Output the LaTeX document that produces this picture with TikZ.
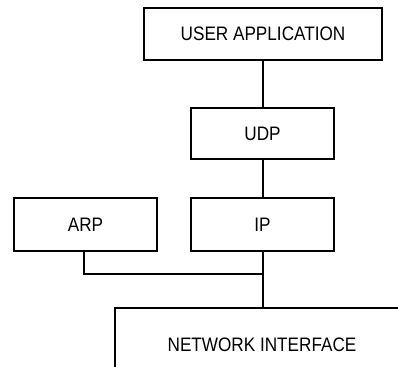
\documentclass[tikz,border=0pt]{standalone}
\usepackage{fontspec}
\setmainfont{Liberation Sans}
\newfontfamily\condfont[FakeStretch=0.88]{Liberation Sans}
\begin{document}
\begin{tikzpicture}[x=1pt,y=-1pt,
  box/.style={draw,line width=2pt,inner sep=0pt,font=\condfont\fontsize{19.5}{22}\selectfont},
  lbl/.style={inner sep=0pt,font=\condfont\fontsize{19.5}{22}\selectfont},
  conn/.style={line width=2pt}]
\useasboundingbox (0,0) rectangle (398,366);
\node[box,minimum width=238pt,minimum height=52pt] (ua) at (263,34) {USER APPLICATION};
\node[box,minimum width=143pt,minimum height=51pt] (udp) at (262.5,133.5) {UDP};
\node[box,minimum width=143pt,minimum height=53pt] (ip) at (262.5,224.5) {IP};
\node[box,minimum width=143pt,minimum height=53pt] (arp) at (85.5,224.5) {ARP};
\coordinate (nitop) at (263,308);
\coordinate (join) at (263,274);
\draw[conn,line cap=rect] (115,366) -- (115,308) -- (398,308);
\node[lbl] (ni) at (262,345) {NETWORK INTERFACE};
\draw[conn] (ua.south -| 263,0) -- (udp.north -| 263,0);
\draw[conn] (udp.south -| 263,0) -- (ip.north -| 263,0);
\draw[conn] (ip.south -| 263,0) -- (nitop);
\draw[conn] (arp.south -| 84,0) |- (join);
\end{tikzpicture}
\end{document}
